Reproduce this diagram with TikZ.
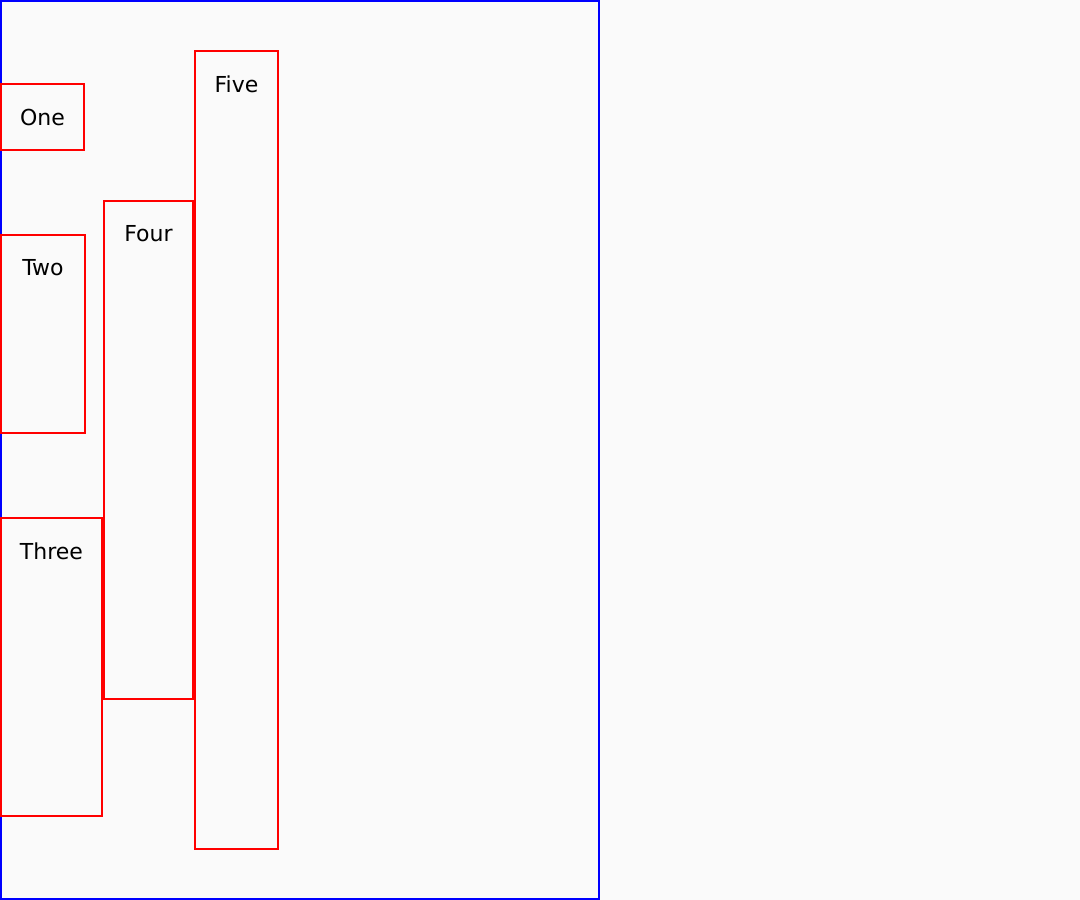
\documentclass[tikz,border=0pt]{standalone}
\usepackage{fontspec}
\setmainfont{DejaVu Sans}
\begin{document}
\begin{tikzpicture}[x=1pt,y=-1pt,
  panel/.style={draw=red, line width=2pt, rectangle, inner sep=0pt, outer sep=0pt},
  caption/.style={font=\fontsize{22}{26}\selectfont, text=black}]
  % canvas
  \fill[fill={rgb,255:red,250;green,250;blue,250}] (0,0) rectangle (1080,900);
  \useasboundingbox (0,0) rectangle (1080,900);
  % outer frame
  \node[draw=blue, line width=2pt, inner sep=0pt, outer sep=0pt,
        minimum width=598pt, minimum height=898pt] (frame) at (300,450) {};
  % column panels
  \node[panel, minimum width=83pt, minimum height=66pt]  (one)   at (42.5,117) {};
  \node[panel, minimum width=84pt, minimum height=198pt] (two)   at (43,334) {};
  \node[panel, minimum width=101pt, minimum height=298pt] (three) at (51.5,667) {};
  \node[panel, minimum width=89pt, minimum height=498pt] (four)  at (148.5,450) {};
  \node[panel, minimum width=83pt, minimum height=798pt] (five)  at (236.5,450) {};
  % captions
  \node[caption] (tone)   at ([yshift=-33pt]one.north)   {One};
  \node[caption] (ttwo)   at ([yshift=-33pt]two.north)   {Two};
  \node[caption] (tthree) at ([yshift=-33pt]three.north) {Three};
  \node[caption] (tfour)  at ([yshift=-33pt]four.north)  {Four};
  \node[caption] (tfive)  at ([yshift=-33pt]five.north)  {Five};
\end{tikzpicture}
\end{document}
